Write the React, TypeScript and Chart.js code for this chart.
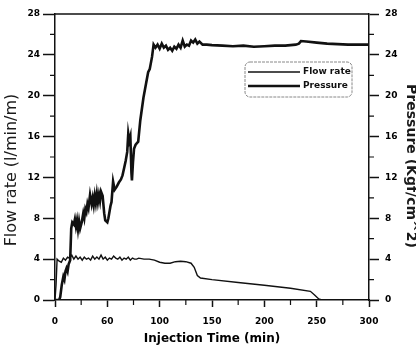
import { useEffect, useRef } from 'react';
import { Chart, registerables } from 'chart.js';

Chart.register(...registerables);

// ---- data ----
const seriesLabels = ['Flow rate', 'Pressure'];

const flowTime = [0, 1, 2, 4, 6, 8, 10, 12, 14, 16, 18, 20, 22, 24, 26, 28, 30, 32, 34, 36, 38, 40, 42, 44, 46, 48, 50, 52, 54, 56, 58, 60, 62, 64, 66, 68, 70, 72, 74, 76, 78, 80, 85, 90, 95, 100, 105, 110, 115, 120, 125, 130, 133, 136, 139, 150, 175, 200, 225, 244, 248, 252, 255];
const flowRate = [0, 1.5, 4.0, 3.8, 3.7, 4.1, 3.9, 4.2, 4.1, 4.4, 4.0, 4.3, 4.0, 4.2, 3.9, 4.2, 4.0, 4.1, 3.9, 4.3, 4.0, 4.2, 4.0, 4.4, 4.0, 4.2, 3.9, 4.1, 4.0, 4.3, 4.1, 4.0, 4.2, 3.9, 4.1, 4.0, 4.2, 3.9, 4.1, 4.0, 4.0, 4.1, 4.0, 4.0, 3.9, 3.7, 3.6, 3.6, 3.75, 3.8, 3.75, 3.6, 3.2, 2.4, 2.15, 2.0, 1.72, 1.45, 1.15, 0.85, 0.5, 0.1, 0];

const pressureTime = [0, 4, 5, 6.5, 8, 9, 10, 11, 12, 13, 14.5, 15.5, 16.5, 18, 19, 20, 21, 22, 23, 24, 25.5, 27, 28, 29, 30, 31, 32, 33.5, 35, 36, 37, 38, 39, 40, 41, 42, 43, 44, 45.5, 47, 48, 50, 51, 53, 54, 55.5, 57, 59, 61, 63, 64.5, 66, 67.5, 69, 70, 71, 72, 73, 73.5, 74.5, 75.5, 77, 79.5, 81.5, 84.5, 87, 89, 90.5, 92.7, 94.2, 96, 98, 100, 102, 104, 106, 108, 110, 112, 114, 116, 118, 120, 122, 124, 126, 128, 130, 132, 134, 136, 138, 141, 145, 150, 160, 170, 180, 190, 200, 210, 220, 230, 233, 235, 240, 250, 260, 270, 280, 300];
const pressure = [0, 0, 0.3, 1.5, 2.3, 2.0, 2.8, 3.1, 2.8, 3.5, 3.9, 7.0, 7.6, 7.4, 7.9, 7.2, 7.8, 6.9, 7.7, 7.0, 7.6, 8.5, 8.0, 8.9, 8.6, 9.4, 9.0, 10.3, 9.4, 10.0, 9.3, 10.2, 9.5, 10.4, 9.6, 10.3, 9.7, 10.6, 10.2, 8.5, 7.8, 7.6, 8.0, 9.2, 9.6, 11.6, 10.8, 11.1, 11.5, 11.8, 12.2, 12.9, 13.6, 14.5, 16.3, 15.6, 16.0, 12.5, 11.7, 13.5, 14.8, 15.2, 15.5, 17.6, 19.8, 21.2, 22.3, 22.6, 23.8, 25.0, 24.7, 25.0, 24.6, 25.1, 24.7, 24.9, 24.5, 24.7, 24.4, 24.8, 24.6, 25.0, 24.7, 25.4, 24.8, 25.0, 24.9, 25.4, 25.2, 25.5, 25.1, 25.3, 25.0, 25.0, 24.95, 24.9, 24.85, 24.9, 24.8, 24.85, 24.9, 24.9, 25.0, 25.1, 25.35, 25.3, 25.2, 25.1, 25.05, 25.0, 25.0];

const xTickValues = [0, 50, 100, 150, 200, 250, 300];
const xTickLabels = ['0', '60', '100', '150', '200', '250', '300'];
const xMinorTicks = [25, 75, 125, 175, 225, 275];
const yMinorTicks = [2, 6, 10, 14, 18, 22, 26];

const xTitle = 'Injection Time (min)';
const yLeftTitle = 'Flow rate (l/min/m)';
const yRightTitle = 'Pressure (Kgf/cm^2)';

const FONT = 'DejaVu Sans';
const INK = '#111';

const framePlugin = {
  id: 'frameMinor',
  afterDraw(chart: any) {
    const { ctx, chartArea } = chart;
    const { left, right, top, bottom } = chartArea;
    ctx.save();
    ctx.strokeStyle = INK;
    ctx.lineWidth = 1.5;
    ctx.beginPath();
    ctx.moveTo(left, top);
    ctx.lineTo(right, top);
    ctx.stroke();
    const xs = chart.scales.x;
    const ys = chart.scales.y;
    const ys1 = chart.scales.y1;
    ctx.lineWidth = 1.2;
    ctx.beginPath();
    xMinorTicks.forEach((v) => {
      const px = xs.getPixelForValue(v);
      ctx.moveTo(px, bottom);
      ctx.lineTo(px, bottom + 5);
    });
    yMinorTicks.forEach((v) => {
      const py = ys.getPixelForValue(v);
      ctx.moveTo(left - 5, py);
      ctx.lineTo(left, py);
      const py1 = ys1.getPixelForValue(v);
      ctx.moveTo(right, py1);
      ctx.lineTo(right + 5, py1);
    });
    ctx.stroke();

    // side axis titles, placed beside their axes
    const midY = (top + bottom) / 2;
    ctx.fillStyle = '#1a1a1a';
    ctx.textAlign = 'center';
    ctx.textBaseline = 'middle';
    ctx.save();
    ctx.translate(12, midY + 13);
    ctx.rotate(-Math.PI / 2);
    ctx.font = `16px "${FONT}"`;
    ctx.fillText(yLeftTitle, 0, 0);
    ctx.restore();
    ctx.save();
    ctx.translate(411, midY + 9);
    ctx.rotate(Math.PI / 2);
    ctx.font = `bold 14px "${FONT}"`;
    ctx.fillText(yRightTitle, 0, 0);
    ctx.restore();
    ctx.restore();
  },
};

const legendPlugin = {
  id: 'boxLegend',
  afterDraw(chart: any) {
    const { ctx, chartArea } = chart;
    const bx = chartArea.left + 190;
    const by = chartArea.top + 48;
    const bw = 107;
    const bh = 35;
    ctx.save();
    ctx.strokeStyle = '#888';
    ctx.lineWidth = 1;
    ctx.setLineDash([3, 1]);
    ctx.beginPath();
    ctx.roundRect(bx, by, bw, bh, 5);
    ctx.stroke();
    ctx.setLineDash([]);
    chart.data.datasets.forEach((ds: any, i: number) => {
      const ly = by + 10 + i * 14;
      ctx.strokeStyle = INK;
      ctx.lineWidth = ds.borderWidth;
      ctx.beginPath();
      ctx.moveTo(bx + 3, ly);
      ctx.lineTo(bx + 55, ly);
      ctx.stroke();
      ctx.fillStyle = INK;
      ctx.font = `bold 9px "${FONT}"`;
      ctx.textBaseline = 'middle';
      ctx.textAlign = 'left';
      ctx.fillText(ds.label, bx + 58, ly - 0.5);
    });
    ctx.restore();
  },
};

export default function App() {
  const ref = useRef<HTMLCanvasElement | null>(null);

  useEffect(() => {
    if (!ref.current) return;
    const tickFont = { family: FONT, size: 9, weight: 'bold' as const };
    const chart = new Chart(ref.current, {
      type: 'line',
      data: {
        datasets: [
          {
            label: seriesLabels[0],
            data: flowTime.map((t, i) => ({ x: t, y: flowRate[i] })),
            borderColor: INK,
            borderWidth: 1.4,
            pointRadius: 0,
            yAxisID: 'y',
          },
          {
            label: seriesLabels[1],
            data: pressureTime.map((t, i) => ({ x: t, y: pressure[i] })),
            borderColor: INK,
            borderWidth: 2.6,
            pointRadius: 0,
            yAxisID: 'y1',
          },
        ],
      },
      options: {
        animation: false,
        responsive: false,
        layout: { padding: { top: 14, left: 0, right: 0, bottom: 0 } },
        plugins: { legend: { display: false }, tooltip: { enabled: false } },
        elements: { line: { tension: 0 } },
        scales: {
          x: {
            type: 'linear',
            min: 0,
            max: 300,
            afterFit: (s: any) => { s.height = 45; },
            afterBuildTicks: (s: any) => { s.ticks = xTickValues.map((v) => ({ value: v })); },
            ticks: {
              callback: (v: any) => xTickLabels[xTickValues.indexOf(Number(v))] ?? '',
              font: tickFont,
              color: '#000',
              padding: 9,
              maxRotation: 0,
              autoSkip: false,
            },
            grid: { drawOnChartArea: false, tickLength: 7, tickColor: INK, tickWidth: 1.5 },
            border: { color: INK, width: 1.5 },
            title: {
              display: true,
              text: xTitle,
              color: '#000',
              font: { family: FONT, size: 12, weight: 'bold' },
              padding: { top: 0, bottom: -1 },
            },
          },
          y: {
            position: 'left',
            min: 0,
            max: 28,
            afterFit: (s: any) => { s.width = 55; },
            ticks: { stepSize: 4, font: tickFont, color: '#000', padding: 3 },
            grid: { drawOnChartArea: false, tickLength: 12, tickColor: INK, tickWidth: 1.5 },
            border: { color: INK, width: 1.5 },
            title: { display: false },
          },
          y1: {
            position: 'right',
            min: 0,
            max: 28,
            afterFit: (s: any) => { s.width = 47; },
            ticks: { stepSize: 4, font: tickFont, color: '#000', padding: 6 },
            grid: { drawOnChartArea: false, tickLength: 10, tickColor: INK, tickWidth: 1.5 },
            border: { color: INK, width: 1.5 },
            title: { display: false },
          },
        },
      },
      plugins: [framePlugin, legendPlugin],
    } as any);
    return () => chart.destroy();
  }, []);

  return (
    <div style={{ position: 'fixed', left: 0, top: 0, width: 416, height: 345, background: '#fff' }}>
      <canvas ref={ref} width={416} height={345} style={{ width: 416, height: 345, display: 'block' }} />
    </div>
  );
}
